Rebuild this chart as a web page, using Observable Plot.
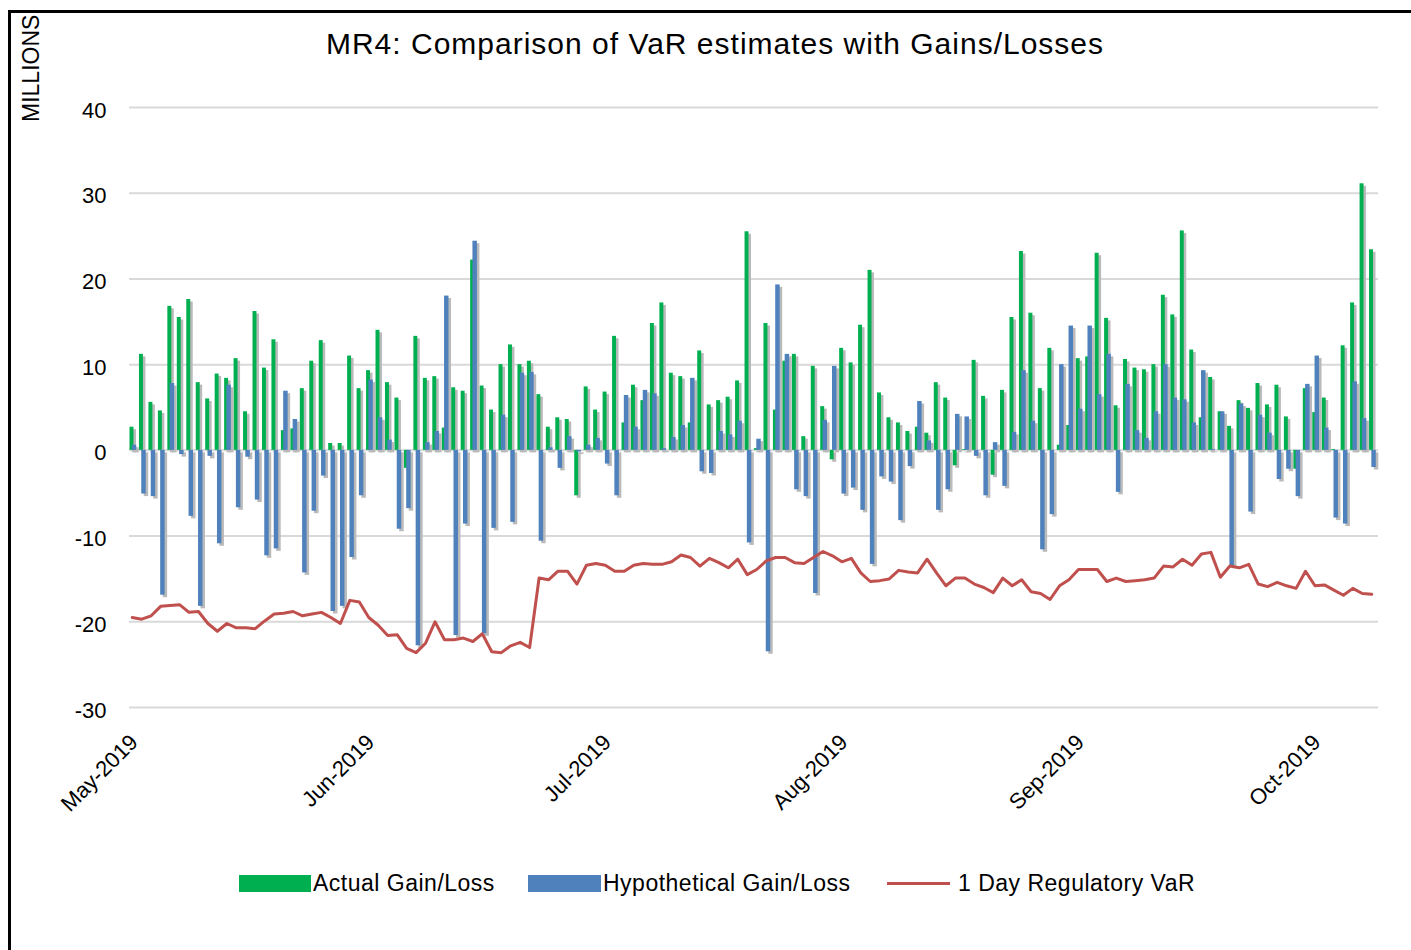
<!DOCTYPE html>
<html>
<head>
<meta charset="utf-8">
<script src="https://cdn.jsdelivr.net/npm/d3@7"></script>
<script src="https://cdn.jsdelivr.net/npm/@observablehq/plot@0.6"></script>
<style>
  html, body { margin: 0; padding: 0; background: #fff; }
  body { width: 1411px; height: 950px; position: relative; overflow: hidden; font-family: "Liberation Sans", Arial, sans-serif; color: #000; }
  #frame { position: absolute; left: 8px; top: 10px; width: 1420px; height: 960px; border-left: 3px solid #000; border-top: 3px solid #000; }
  #title { position: absolute; left: 0; width: 1430px; top: 29px; text-align: center; font-size: 30px; line-height: 30px; letter-spacing: 1px; white-space: nowrap; }
  #ylab { position: absolute; left: 20px; top: 122px; font-size: 23px; line-height: 23px; transform-origin: 0 0; transform: rotate(-90deg); white-space: nowrap; }
  #chart { position: absolute; left: 0; top: 60px; }
  .leg { position: absolute; font-size: 23px; line-height: 23px; letter-spacing: 0.5px; white-space: nowrap; }
  .sw { position: absolute; }
</style>
</head>
<body>
<div id="frame"></div>
<div id="title">MR4: Comparison of VaR estimates with Gains/Losses</div>
<div id="ylab">MILLIONS</div>
<div id="chart"></div>
<div id="legend"></div>
<script>
// ---- data (millions) ----
const actual = [2.7, 11.2, 5.6, 4.6, 16.8, 15.5, 17.6, 7.9, 6.0, 8.9, 8.4, 10.7, 4.5, 16.2, 9.6, 12.9, 2.3, 2.5, 7.2, 10.4,
  12.8, 0.8, 0.8, 11.0, 7.2, 9.3, 14.0, 7.9, 6.1, -2.1, 13.3, 8.4, 8.6, 2.6, 7.3, 6.9, 22.2, 7.5, 4.7, 10.0,
  12.3, 10.0, 10.4, 6.5, 2.7, 3.8, 3.6, -5.3, 7.4, 4.7, 6.8, 13.3, 3.2, 7.6, 5.8, 14.8, 17.2, 9.0, 8.6, 3.2,
  11.6, 5.3, 5.8, 6.2, 8.1, 25.5, 0.2, 14.8, 4.7, 10.4, 11.2, 1.6, 9.8, 5.1, -1.1, 11.9, 10.2, 14.6, 21.0, 6.7,
  3.8, 3.2, 2.2, 2.7, 2.0, 7.9, 6.1, -1.8, 0.1, 10.5, 6.3, -2.9, 7.0, 15.5, 23.2, 16.0, 7.2, 11.9, 0.6, 2.9,
  10.7, 10.9, 23.0, 15.4, 5.2, 10.6, 9.6, 9.4, 10.0, 18.1, 15.8, 25.6, 11.7, 3.8, 8.5, 4.5, 2.8, 5.8, 4.9, 7.8,
  5.3, 7.6, 3.9, -2.2, 7.2, 4.4, 6.1, 0.1, 12.2, 17.2, 31.1, 23.4];
const hypothetical = [0.6, -5.1, -5.4, -16.9, 7.8, -0.5, -7.7, -18.2, -0.7, -10.9, 7.6, -6.7, -0.8, -5.8, -12.3, -11.5, 6.9, 3.6, -14.3, -7.1,
  -3.0, -18.8, -18.2, -12.5, -5.3, 8.2, 3.8, 1.2, -9.2, -6.8, -22.8, 0.9, 2.2, 18.0, -21.6, -8.6, 24.4, -21.4, -9.1, 4.1,
  -8.4, 9.0, 9.1, -10.6, 0.3, -2.1, 1.6, -0.2, 0.6, 1.4, -1.6, -5.3, 6.4, 2.7, 7.0, 6.6, 0.2, 1.5, 2.9, 8.4,
  -2.5, -2.7, 2.2, 1.8, 3.4, -10.8, 1.3, -23.5, 19.3, 11.2, -4.6, -5.4, -16.7, 3.5, 9.8, -5.1, -4.4, -7.0, -13.3, -3.1,
  -3.7, -8.2, -1.9, 5.7, 1.1, -7.0, -4.6, 4.2, 3.9, -0.7, -5.3, 0.9, -4.2, 2.1, 9.3, 3.4, -11.6, -7.5, 10.0, 14.5,
  4.8, 14.5, 6.5, 11.2, -4.9, 7.7, 2.3, 1.4, 4.5, 10.0, 6.1, 5.9, 3.2, 9.3, 0.1, 4.5, -13.5, 5.4, -7.2, 4.1,
  2.0, -3.4, -2.2, -5.4, 7.7, 11.0, 2.6, -7.9, -8.6, 8.0, 3.7, -2.0];
const regVaR = [-19.5, -19.7, -19.3, -18.2, -18.1, -18.0, -18.9, -18.8, -20.2, -21.1, -20.2, -20.7, -20.7, -20.8, -19.9, -19.1, -19.0, -18.8, -19.3, -19.1,
  -18.9, -19.5, -20.2, -17.5, -17.7, -19.5, -20.4, -21.6, -21.5, -23.1, -23.6, -22.5, -20.0, -22.1, -22.1, -21.9, -22.3, -21.4, -23.5, -23.6,
  -22.8, -22.4, -23.0, -14.9, -15.1, -14.1, -14.1, -15.6, -13.4, -13.2, -13.4, -14.1, -14.1, -13.4, -13.2, -13.3, -13.3, -13.0, -12.2, -12.5,
  -13.5, -12.6, -13.1, -13.7, -12.7, -14.5, -13.9, -12.9, -12.5, -12.5, -13.1, -13.2, -12.5, -11.8, -12.3, -13.0, -12.6, -14.3, -15.3, -15.2,
  -15.0, -14.0, -14.2, -14.3, -12.7, -14.3, -15.8, -14.9, -14.9, -15.6, -16.0, -16.6, -14.9, -15.8, -15.1, -16.5, -16.7, -17.4, -15.8, -15.1,
  -13.9, -13.9, -13.9, -15.3, -14.9, -15.3, -15.2, -15.1, -14.9, -13.5, -13.6, -12.7, -13.4, -12.1, -11.9, -14.8, -13.5, -13.7, -13.3, -15.6,
  -15.9, -15.4, -15.8, -16.1, -14.1, -15.8, -15.7, -16.3, -16.9, -16.1, -16.7, -16.8];
const monthLabels = ["May-2019", "Jun-2019", "Jul-2019", "Aug-2019", "Sep-2019", "Oct-2019"];
const monthTickDays = [0, 25, 50, 75, 100, 125];
const yTicks = [-30, -20, -10, 0, 10, 20, 30, 40];
const seriesNames = ["Actual Gain/Loss", "Hypothetical Gain/Loss", "1 Day Regulatory VaR"];
const colors = ["#00b050", "#4f81bd", "#c0504d"];

// ---- table ----
const days = actual.map((_, i) => i);
const data = days.map(i => ({day: i, actual: actual[i], hyp: hypothetical[i], v: regVaR[i]}));
const labelOf = new Map(monthTickDays.map((d, k) => [d, monthLabels[k]]));
const shadow = "#bababa";

const chart = Plot.plot({
  width: 1411,
  height: 780,
  marginLeft: 129,
  marginRight: 33,
  marginTop: 47,
  marginBottom: 133,
  style: {fontFamily: "'Liberation Sans', Arial, sans-serif", fontSize: "22px", color: "#000", background: "transparent", overflow: "visible"},
  x: {type: "band", domain: days, padding: 0, label: null},
  y: {domain: [-30, 40], label: null},
  marks: [
    Plot.gridY(yTicks, {stroke: "#d9d9d9", strokeOpacity: 1, strokeWidth: 2}),
    Plot.axisY(yTicks, {tickSize: 0, tickPadding: 23, dy: 3, fontSize: 22, label: null, tickFormat: d => String(d)}),
    Plot.axisX(monthTickDays, {tickSize: 0, tickPadding: 31, tickRotate: -45, fontSize: 22, label: null, tickFormat: d => labelOf.get(d)}),
    Plot.barY(data, {x: "day", y: "actual", fill: shadow, insetLeft: 0.5, insetRight: 5, dx: 2.5, dy: 2.5, ariaLabel: "shadow"}),
    Plot.barY(data, {x: "day", y: "actual", fill: colors[0], insetLeft: 0.5, insetRight: 5}),
    Plot.barY(data, {x: "day", y: "hyp", fill: shadow, insetLeft: 2.8, insetRight: 2.2, dx: 2.5, dy: 2.5, ariaLabel: "shadow"}),
    Plot.barY(data, {x: "day", y: "hyp", fill: colors[1], insetLeft: 2.8, insetRight: 2.2}),
    Plot.line(data, {x: "day", y: "v", stroke: "#9a9a9a", strokeOpacity: 0.55, strokeWidth: 4, dx: 0, dy: 4, ariaLabel: "shadow"}),
    Plot.line(data, {x: "day", y: "v", stroke: colors[2], strokeWidth: 3, dx: -2, strokeLinejoin: "round"})
  ]
});
document.getElementById("chart").appendChild(chart);

// soft shadow blur
const svg = d3.select(chart);
svg.insert("defs", ":first-child").append("filter").attr("id", "soft")
  .attr("x", "-20%").attr("y", "-20%").attr("width", "140%").attr("height", "140%")
  .append("feGaussianBlur").attr("stdDeviation", 0.9);
svg.selectAll('g[aria-label="shadow"]').attr("filter", "url(#soft)");

// ---- legend ----
const legend = document.getElementById("legend");
const items = [
  {type: "box", x: 239, w: 72, tx: 313},
  {type: "box", x: 528, w: 73, tx: 603},
  {type: "line", x: 887, w: 63, tx: 958}
];
items.forEach((it, k) => {
  const sw = document.createElement("div");
  sw.className = "sw";
  sw.style.left = it.x + "px";
  sw.style.width = it.w + "px";
  sw.style.background = colors[k];
  if (it.type === "box") { sw.style.top = "875px"; sw.style.height = "17px"; }
  else { sw.style.top = "882px"; sw.style.height = "3px"; }
  legend.appendChild(sw);
  const t = document.createElement("div");
  t.className = "leg";
  t.style.left = it.tx + "px";
  t.style.top = "872px";
  t.textContent = seriesNames[k];
  legend.appendChild(t);
});
</script>
</body>
</html>
